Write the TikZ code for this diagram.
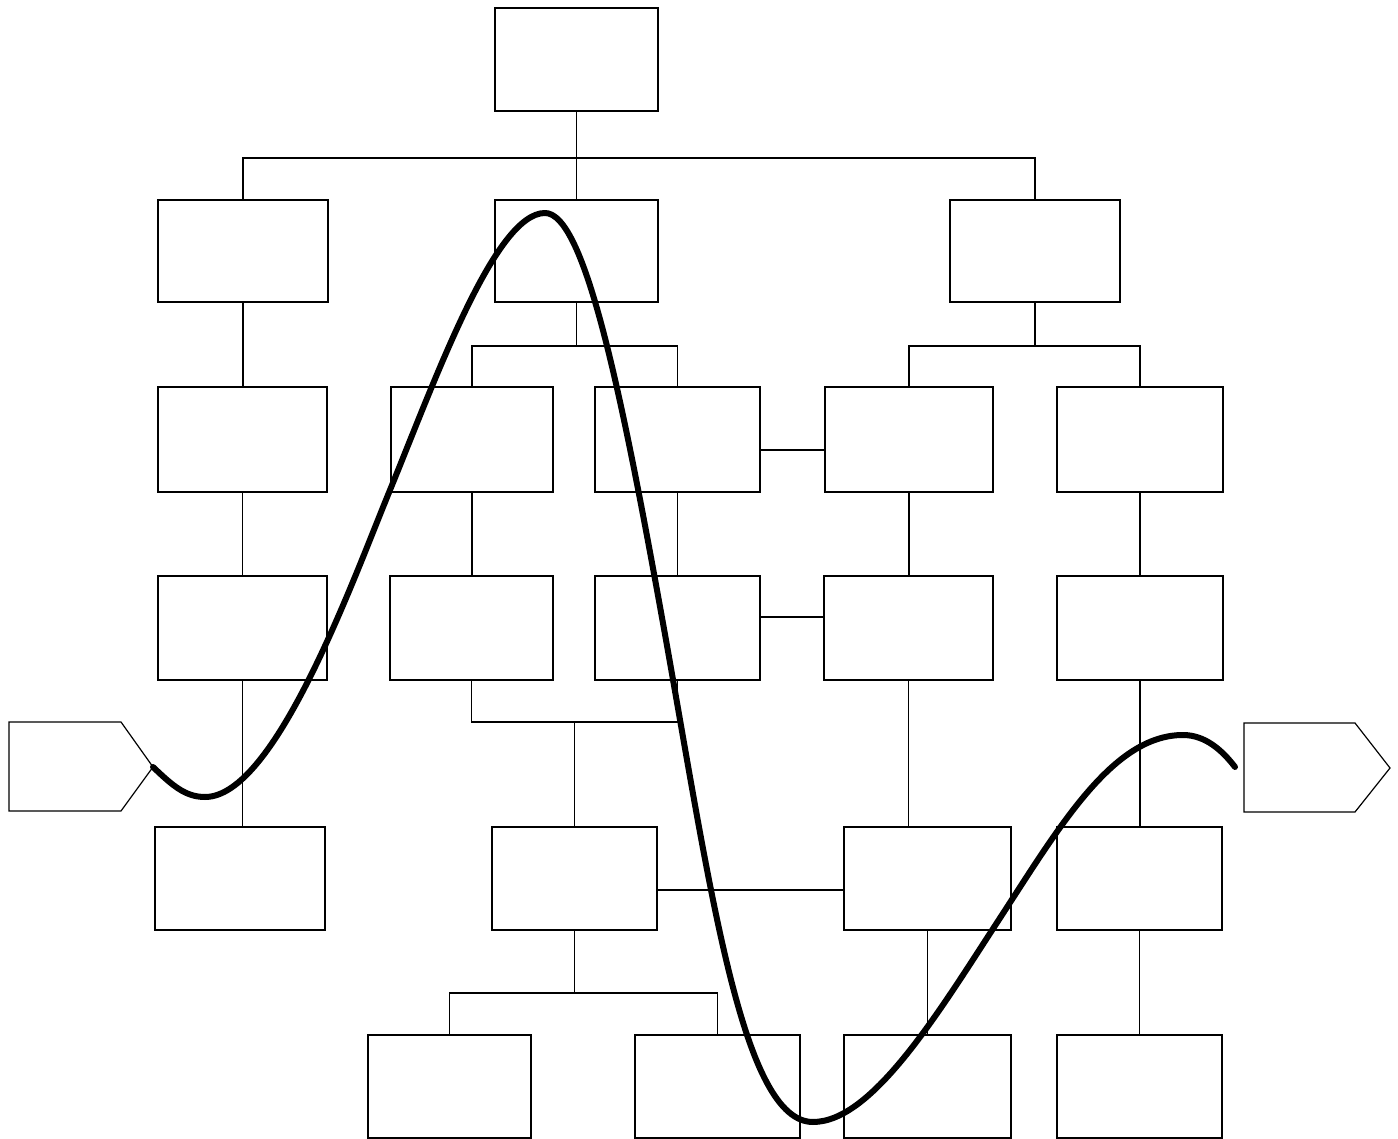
\documentclass[tikz,border=0pt]{standalone}
\begin{document}
\begin{tikzpicture}[x=1pt,y=-1pt,
  box/.style 2 args={draw,line width=1.7pt,minimum width=#1,minimum height=#2,inner sep=0pt,outer sep=0pt},
  conn/.style={draw,line width=1.3pt},
  tag/.style={draw,line width=1.2pt,line join=miter},
  wave/.style={draw,line width=6pt,line cap=round,line join=round}]
\useasboundingbox (0,0) rectangle (1398,1139);
% boxes
\node[box={163}{103}] (top) at (576.5,59.5) {};
\node[box={170}{102}] (A1) at (243,251) {};
\node[box={163}{102}] (A2) at (576.5,251) {};
\node[box={170}{102}] (A3) at (1035,251) {};
\node[box={169}{105}] (B1) at (242.5,439.5) {};
\node[box={162}{105}] (B2) at (472,439.5) {};
\node[box={165}{105}] (B3) at (677.5,439.5) {};
\node[box={168}{105}] (B4) at (909,439.5) {};
\node[box={166}{105}] (B5) at (1140,439.5) {};
\node[box={169}{104}] (C1) at (242.5,628) {};
\node[box={163}{104}] (C2) at (471.5,628) {};
\node[box={165}{104}] (C3) at (677.5,628) {};
\node[box={169}{104}] (C4) at (908.5,628) {};
\node[box={166}{104}] (C5) at (1140,628) {};
\node[box={170}{103}] (D1) at (240,878.5) {};
\node[box={165}{103}] (D2) at (574.5,878.5) {};
\node[box={167}{103}] (D3) at (927.5,878.5) {};
\node[box={165}{103}] (D4) at (1139.5,878.5) {};
\node[box={163}{103}] (E1) at (449.5,1086.5) {};
\node[box={165}{103}] (E2) at (717.5,1086.5) {};
\node[box={167}{103}] (E3) at (927.5,1086.5) {};
\node[box={165}{103}] (E4) at (1139.5,1086.5) {};
% helper levels
\coordinate (bus1) at (0,158);
\coordinate (bus2) at (0,346);
\coordinate (bus3) at (0,722);
\coordinate (bus4) at (0,993);
\coordinate (h1) at (0,450);
\coordinate (h2) at (0,617);
\coordinate (h3) at (0,890);
% connectors
\draw[conn] (top.south) -- (top.south |- bus1);
\draw[conn] (A1.north) |- (A3.north |- bus1) -- (A3.north);
\draw[conn] (A2.north) -- (A2.north |- bus1);
\draw[conn] (A1.south) -- (A1.south |- B1.north);
\draw[conn] (A2.south) -- (A2.south |- bus2);
\draw[conn] (B2.north) |- (B3.north |- bus2) -- (B3.north);
\draw[conn] (A3.south) -- (A3.south |- bus2);
\draw[conn] (B4.north) |- (B5.north |- bus2) -- (B5.north);
\draw[conn] (B1.south) -- (B1.south |- C1.north);
\draw[conn] (B2.south) -- (B2.south |- C2.north);
\draw[conn] (B3.south) -- (B3.south |- C3.north);
\draw[conn] (B4.south) -- (B4.south |- C4.north);
\draw[conn] (B5.south) -- (B5.south |- C5.north);
\draw[conn] (B3.east |- h1) -- (B4.west |- h1);
\draw[conn] (C3.east |- h2) -- (C4.west |- h2);
\draw[conn] (C2.south) |- (C3.south |- bus3) -- (C3.south);
\draw[conn] (D2.north |- bus3) -- (D2.north);
\draw[conn] (C1.south) -- (C1.south |- D1.north);
\draw[conn] (C4.south) -- (C4.south |- D3.north);
\draw[conn] (C5.south) -- (C5.south |- D4.north);
\draw[conn] (D2.east |- h3) -- (D3.west |- h3);
\draw[conn] (D2.south) -- (D2.south |- bus4);
\draw[conn] (E1.north) |- (E2.north |- bus4) -- (E2.north);
\draw[conn] (D3.south) -- (D3.south |- E3.north);
\draw[conn] (D4.south) -- (D4.south |- E4.north);
% tags
\draw[tag] (9,722) -- (121,722) -- (153,767) -- (121,811) -- (9,811) -- cycle;
\coordinate (tagLtip) at (153,767);
\draw[tag] (1244,723) -- (1355,723) -- (1390,768) -- (1355,812) -- (1244,812) -- cycle;
\coordinate (waveEnd) at (1235,767);
% wave
\draw[wave] (tagLtip)
  .. controls (172,785) and (185,797) .. (205,797)
  .. controls (275,797) and (352,582.5) .. (390,490)
  .. controls (435.5,379) and (495,213) .. (545,213)
  .. controls (585,213) and (622,394) .. (666,640)
  .. controls (711.5,896) and (743,1122) .. (813,1122)
  .. controls (873,1122) and (940,1010) .. (1000,918)
  .. controls (1060,825.8) and (1113,735) .. (1183,735)
  .. controls (1205,735) and (1222,750) .. (waveEnd);
\end{tikzpicture}
\end{document}
